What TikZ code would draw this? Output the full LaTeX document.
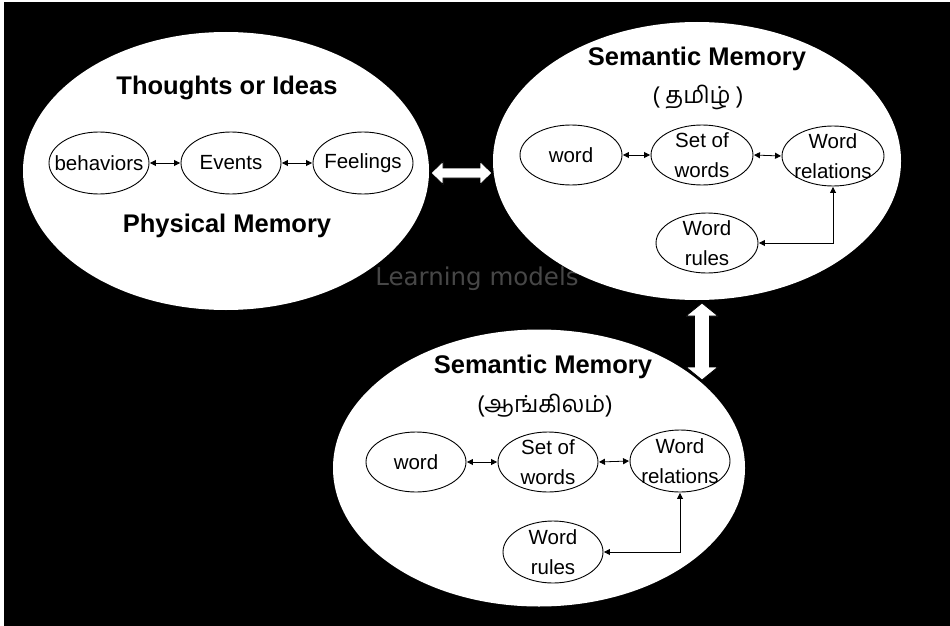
\documentclass[tikz,border=0pt]{standalone}
\usepackage{fontspec}
\setmainfont{Liberation Sans}
\newfontfamily\tamilfont[Script=Tamil]{Hind Madurai}
\newfontfamily\dvfont{DejaVu Sans}
\usetikzlibrary{shapes.geometric,arrows.meta}
\begin{document}
\begin{tikzpicture}[x=1pt,y=-1pt,
  bigell/.style={ellipse, fill=white, inner sep=0pt},
  smallell/.style={ellipse, draw=black, line width=0.9pt, fill=white, minimum width=100pt, minimum height=62pt, inner sep=0pt},
  lbl/.style={inner sep=0pt, align=center, font=\fontsize{20.5}{29.5}\selectfont},
  title/.style={inner sep=0pt, anchor=base, font=\bfseries\fontsize{25.5}{28}\selectfont},
  tam/.style={inner sep=0pt, anchor=base, font=\tamilfont\fontsize{23.5}{28}\selectfont},
  link/.style={{Triangle[length=6pt,width=6pt]}-{Triangle[length=6pt,width=6pt]}, line width=0.8pt, shorten <=0.5pt, shorten >=0.5pt},
  blockarrow/.style={fill=white, draw=black, line width=0.8pt}]
% background
\fill[black] (0,0) rectangle (950,626);
\useasboundingbox (0,0) rectangle (950,626);
\fill[white] (0,0) rectangle (950,2.5);
\fill[white] (0,0) rectangle (3.5,626);

% learning models text
\node[inner sep=0pt, text=black!72, font=\dvfont\fontsize{24.5}{28}\selectfont] (learn) at (477,279) {Learning models};

% big ellipses
\node[bigell, minimum width=406pt, minimum height=278pt] (phys) at (226,171) {};
\node[bigell, minimum width=408pt, minimum height=278pt] (semT) at (697,161) {};
\node[bigell, minimum width=412pt, minimum height=277pt] (semB) at (539,468) {};

% block arrows
\draw[blockarrow] (431,173) -- (443,161.5) -- (443,168) -- (480,168) -- (480,161.5) -- (492,173) -- (480,184.5) -- (480,178) -- (443,178) -- (443,184.5) -- cycle;
\draw[blockarrow] (702,303) -- (718,316) -- (709.5,316) -- (709.5,367) -- (718,367) -- (702,380) -- (686,367) -- (694.5,367) -- (694.5,316) -- (686,316) -- cycle;

% physical memory
\node[title] (thoughts) at (227,94) {Thoughts or Ideas};
\node[title] (physt) at (227,232) {Physical Memory};
\node[smallell] (beh) at (99,163) {};
\node[smallell] (evt) at (231,163) {};
\node[smallell] (feel) at (363,163) {};
\node[lbl] (behL) at (beh) {behaviors};
\node[lbl] (evtL) at (evt) {Events};
\node[lbl] (feelL) at (feel) {Feelings};
\draw[link] (beh.east) -- (evt.west);
\draw[link] (evt.east) -- (feel.west);

% semantic memory tamil
\node[title] (semTt) at (697,66) {Semantic Memory};
\node[tam] (tamil) at (698,103) {( தமிழ் )};
\node[smallell, minimum width=102pt, minimum height=60pt] (wT) at (571,155) {};
\node[smallell, minimum width=102pt, minimum height=60pt] (sT) at (702,155) {};
\node[smallell, minimum width=102pt, minimum height=60pt] (rT) at (833,156) {};
\node[smallell, minimum width=102pt, minimum height=60pt] (ruT) at (707,243) {};
\node[lbl] (wTL) at (wT) {word};
\node[lbl] (sTL) at (sT) {Set of\\words};
\node[lbl] (rTL) at (rT) {Word\\relations};
\node[lbl] (ruTL) at (ruT) {Word\\rules};
\draw[link] (wT.east) -- (sT.west);
\draw[link] (sT.east) -- (rT.west);
\draw[link] (rT.south) |- (ruT.east);

% semantic memory english
\node[title] (semBt) at (543,373) {Semantic Memory};
\node[tam] (eng) at (545,412) {(ஆங்கிலம்)};
\node[smallell, minimum width=100pt, minimum height=60pt] (wB) at (416,462) {};
\node[smallell, minimum width=100pt, minimum height=60pt] (sB) at (548,462) {};
\node[smallell, minimum width=100pt, minimum height=62pt] (rB) at (680,461) {};
\node[smallell, minimum width=100pt, minimum height=62pt] (ruB) at (553,552) {};
\node[lbl] (wBL) at (wB) {word};
\node[lbl] (sBL) at (sB) {Set of\\words};
\node[lbl] (rBL) at (rB) {Word\\relations};
\node[lbl] (ruBL) at (ruB) {Word\\rules};
\draw[link] (wB.east) -- (sB.west);
\draw[link] (sB.east) -- (rB.west);
\draw[link] (rB.south) |- (ruB.east);
\end{tikzpicture}
\end{document}
